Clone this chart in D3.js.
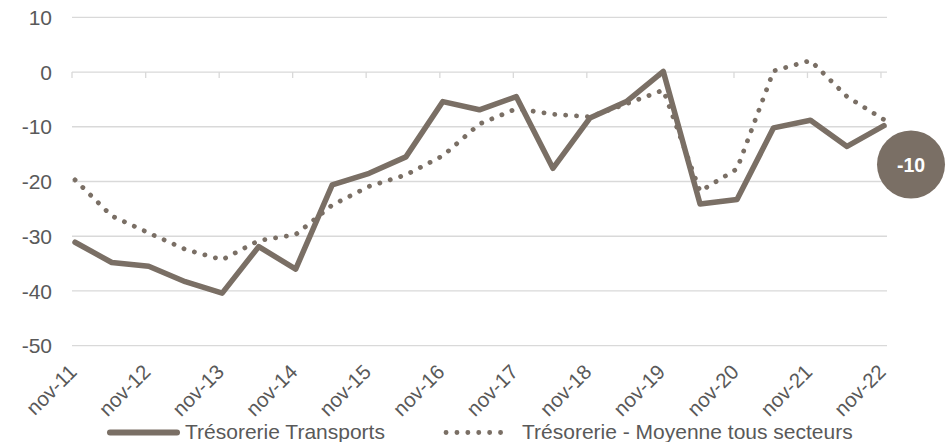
<!DOCTYPE html>
<html>
<head>
<meta charset="utf-8">
<script src="https://cdn.jsdelivr.net/npm/d3@7"></script>
<style>
  body { margin: 0; background: #fff; }
  svg { display: block; font-family: "Liberation Sans", Arial, sans-serif; }
</style>
</head>
<body>
<svg id="chart" width="950" height="442"></svg>
<script>
// Semi-annual periods (nov / may), nov-11 .. nov-22
const periods = ["2011-11", "2012-05", "2012-11", "2013-05", "2013-11", "2014-05", "2014-11",
  "2015-05", "2015-11", "2016-05", "2016-11", "2017-05", "2017-11", "2018-05", "2018-11",
  "2019-05", "2019-11", "2020-05", "2020-11", "2021-05", "2021-11", "2022-05", "2022-11"];

const transports = [-31.1, -34.8, -35.5, -38.3, -40.4, -31.9, -36.0, -20.6, -18.5, -15.5, -5.4, -6.9,
  -4.5, -17.6, -8.4, -5.4, 0.1, -24.1, -23.3, -10.2, -8.8, -13.6, -9.8];

const moyenne = [-19.7, -26.3, -29.4, -32.4, -34.3, -30.8, -29.7, -24.3, -20.9, -18.8, -15.3, -9.5,
  -6.7, -7.7, -8.2, -5.8, -3.3, -21.8, -17.7, 0.2, 2.1, -4.5, -8.7];

const yTicks = [10, 0, -10, -20, -30, -40, -50];
const xTickLabels = ["nov-11", "nov-12", "nov-13", "nov-14", "nov-15", "nov-16", "nov-17",
  "nov-18", "nov-19", "nov-20", "nov-21", "nov-22"];
const seriesNames = ["Trésorerie Transports", "Trésorerie - Moyenne tous secteurs"];
const lastLabel = "-10";

const brown = "#7a6f65";
const textColor = "#595959";
const gridColor = "#d9d9d9";

const svg = d3.select("#chart");
const parseMonth = d3.timeParse("%Y-%m");

// Excel date axis: one slot per month, points sit mid-slot
const x = d3.scaleTime()
  .domain([parseMonth("2011-11"), parseMonth("2022-12")])
  .range([72, 887]);
const y = d3.scaleLinear().domain([-50, 10]).range([345.7, 17.3]);

const mid = p => {
  const d = parseMonth(p);
  return new Date((d.getTime() + d3.timeMonth.offset(d, 1).getTime()) / 2);
};

// Gridlines
svg.append("g")
  .selectAll("line")
  .data(yTicks)
  .join("line")
  .attr("x1", x.range()[0])
  .attr("x2", x.range()[1])
  .attr("y1", d => y(d))
  .attr("y2", d => y(d))
  .attr("stroke", gridColor)
  .attr("stroke-width", 1.3);

// Y labels
svg.append("g")
  .selectAll("text")
  .data(yTicks)
  .join("text")
  .attr("x", 52)
  .attr("y", d => y(d))
  .attr("dy", "0.36em")
  .attr("text-anchor", "end")
  .attr("font-size", 21)
  .attr("fill", textColor)
  .text(d => d);

// Tick marks on the zero axis
const tickDates = xTickLabels.map(l => parseMonth("20" + l.slice(4) + "-11"));
svg.append("g")
  .selectAll("line")
  .data(tickDates)
  .join("line")
  .attr("x1", d => x(d))
  .attr("x2", d => x(d))
  .attr("y1", y(0))
  .attr("y2", y(0) + 6)
  .attr("stroke", gridColor)
  .attr("stroke-width", 1.3);

// X labels (rotated)
svg.append("g")
  .selectAll("text")
  .data(xTickLabels)
  .join("text")
  .attr("transform", (d, i) => `translate(${x(tickDates[i]) + 1},${368}) rotate(-45)`)
  .attr("text-anchor", "end")
  .attr("dy", "0.35em")
  .attr("font-size", 20.5)
  .attr("fill", textColor)
  .text(d => d);

const line = d3.line()
  .x((d, i) => x(mid(periods[i])))
  .y(d => y(d));

// Dotted series
svg.append("path")
  .datum(moyenne)
  .attr("d", line)
  .attr("fill", "none")
  .attr("stroke", brown)
  .attr("stroke-width", 4.8)
  .attr("stroke-linecap", "round")
  .attr("stroke-dasharray", "0.1 10.8");

// Solid series
svg.append("path")
  .datum(transports)
  .attr("d", line)
  .attr("fill", "none")
  .attr("stroke", brown)
  .attr("stroke-width", 5.5)
  .attr("stroke-linejoin", "round")
  .attr("stroke-linecap", "round");

// Last value bubble
svg.append("circle")
  .attr("cx", 911)
  .attr("cy", 164.5)
  .attr("r", 34)
  .attr("fill", brown);
svg.append("text")
  .attr("x", 911)
  .attr("y", 164.5)
  .attr("dy", "0.36em")
  .attr("text-anchor", "middle")
  .attr("font-size", 19.5)
  .attr("font-weight", "bold")
  .attr("fill", "#fff")
  .text(lastLabel);

// Legend
const legend = svg.append("g");
legend.append("line")
  .attr("x1", 110).attr("x2", 177)
  .attr("y1", 432.5).attr("y2", 432.5)
  .attr("stroke", brown)
  .attr("stroke-width", 6)
  .attr("stroke-linecap", "round");
legend.append("text")
  .attr("x", 185).attr("y", 438.5)
  .attr("font-size", 21)
  .attr("fill", textColor)
  .text(seriesNames[0]);
legend.append("line")
  .attr("x1", 446).attr("x2", 511)
  .attr("y1", 432.5).attr("y2", 432.5)
  .attr("stroke", brown)
  .attr("stroke-width", 4.8)
  .attr("stroke-linecap", "round")
  .attr("stroke-dasharray", "0.1 10.8");
legend.append("text")
  .attr("x", 522).attr("y", 438.5)
  .attr("font-size", 21)
  .attr("fill", textColor)
  .text(seriesNames[1]);
</script>
</body>
</html>
